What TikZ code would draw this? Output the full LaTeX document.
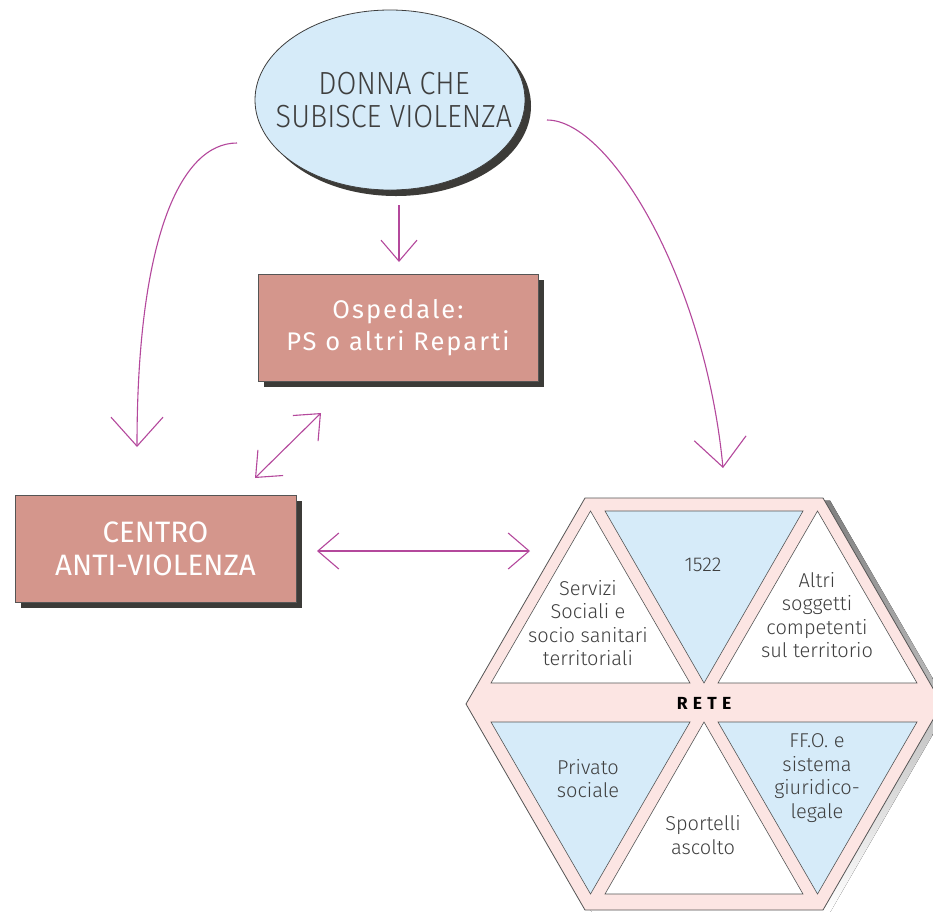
\documentclass[tikz,border=0pt]{standalone}
\usepackage{fontspec}
\setmainfont{Fira Sans}
\newfontfamily\thinfont{Fira Sans Light}
\newfontfamily\bubblefont[FakeStretch=0.9]{Fira Sans Light}
\newfontfamily\boxfont[LetterSpace=8]{Fira Sans}
\newfontfamily\retefont[LetterSpace=30]{Fira Sans}
\usetikzlibrary{arrows.meta,shapes.geometric,shadows}

\definecolor{skyfill}{HTML}{D6EBF9}
\definecolor{rosebox}{HTML}{D4968C}
\definecolor{shade}{HTML}{3C3B38}
\definecolor{linkmag}{HTML}{B4489C}
\definecolor{hexpink}{HTML}{FCE5E3}
\definecolor{inkgray}{HTML}{3F3F3F}
\definecolor{edgegray}{HTML}{555555}

\tikzset{
  darkshadow/.style={general shadow={fill=shade, shadow xshift=6pt, shadow yshift=-6pt}},
  bubble/.style={ellipse, draw=inkgray, line width=0.8pt, fill=skyfill, darkshadow,
    inner sep=0pt, minimum width=270pt, minimum height=180pt},
  bubbletext/.style={align=center, text=inkgray, font=\bubblefont\fontsize{32}{33}\selectfont},
  rosebox/.style={rectangle, draw=edgegray, line width=0.8pt, fill=rosebox, darkshadow,
    minimum width=280pt, minimum height=107pt, align=center, text=white},
  tri/.style={draw=edgegray, line width=0.6pt},
  tritext/.style={align=center, text=inkgray, font=\thinfont\fontsize{20}{23.5}\selectfont},
  link/.style={draw=linkmag, line width=1.1pt},
  bigtip/.tip={Straight Barb[length=29pt, width=52pt]},
  smalltip/.tip={Straight Barb[length=21pt, width=36pt]},
}

\begin{document}
\begin{tikzpicture}[x=1pt, y=-1pt]
\clip (0,0) rectangle (933,911);
\fill[white] (0,0) rectangle (933,911);

% --- the woman, the hospital and the anti-violence centre ---
\node[bubble] (donna) at (390,100) {};
\node[bubbletext] (donnatext) at (394,100) {DONNA CHE\\SUBISCE VIOLENZA};
\node[rosebox, font=\boxfont\fontsize{25.5}{32}\selectfont] (osp) at (398,327.5) {Ospedale:\\PS o altri Reparti};
\node[rosebox, minimum width=281pt, font=\fontsize{29.5}{33}\selectfont] (cav) at (155.5,548.5) {CENTRO\\ANTI-VIOLENZA};

% --- the network hexagon ---
\fill[shade] (592,500.5) -- (830,500.5) -- (949,706.5) -- (830,912.5) -- (592,912.5) -- (473,706.5) -- cycle;
\draw[fill=hexpink, draw=edgegray, line width=0.8pt] (585,498) -- (823,498) -- (942,704) -- (823,910) -- (585,910) -- (466,704) -- cycle;
\coordinate (rete) at (704,704);

% upper row of triangles
\draw[tri, fill=white]   (491,683) -- (690,683) -- (590.5,511) -- cycle;
\draw[tri, fill=skyfill] (605,511) -- (803,511) -- (704,683) -- cycle;
\draw[tri, fill=white]   (718,683) -- (917,683) -- (817.5,511) -- cycle;
% lower row of triangles
\draw[tri, fill=skyfill] (491,722) -- (690,722) -- (590.5,894) -- cycle;
\draw[tri, fill=white]   (605,894) -- (803,894) -- (704,722) -- cycle;
\draw[tri, fill=skyfill] (718,722) -- (917,722) -- (817.5,894) -- cycle;

\node[tritext] (servizi) at (588,623) {Servizi\\Sociali e\\socio sanitari\\territoriali};
\node[tritext] (numero) at (703,565) {1522};
\node[tritext] (altri) at (817,615) {Altri\\soggetti\\competenti\\sul territorio};
\node[tritext] (privato) at (588,778.5) {Privato\\sociale};
\node[tritext] (sportelli) at (703,835) {Sportelli\\ascolto};
\node[tritext] (ffo) at (817,778) {FF.O. e\\sistema\\giuridico-\\legale};
\node[font=\retefont\fontsize{17.5}{18}\selectfont\bfseries, text=black] (retelabel) at (704,703) {RETE};

% --- connectors ---
\coordinate (lstart) at (237,143);
\coordinate (lend) at (137,447);
\coordinate (rstart) at (547,120);
\coordinate (rend) at (723,468);
\coordinate (dstart) at (399,205);
\coordinate (dend) at (399,262);
\coordinate (ostart) at (321,413);
\coordinate (oend) at (255,478);
\coordinate (hleft) at (317,551);
\coordinate (hright) at (530,551);

\draw[link, -bigtip] (lstart) .. controls (180,143) and (137,240) .. (lend);
\draw[link, -bigtip] (rstart) .. controls (610,120) and (705,280) .. (rend);
\draw[link, -smalltip] (dstart) -- (dend);
\draw[link, smalltip-smalltip] (oend) -- (ostart);
\draw[link, smalltip-smalltip] (hleft) -- (hright);
\end{tikzpicture}
\end{document}
